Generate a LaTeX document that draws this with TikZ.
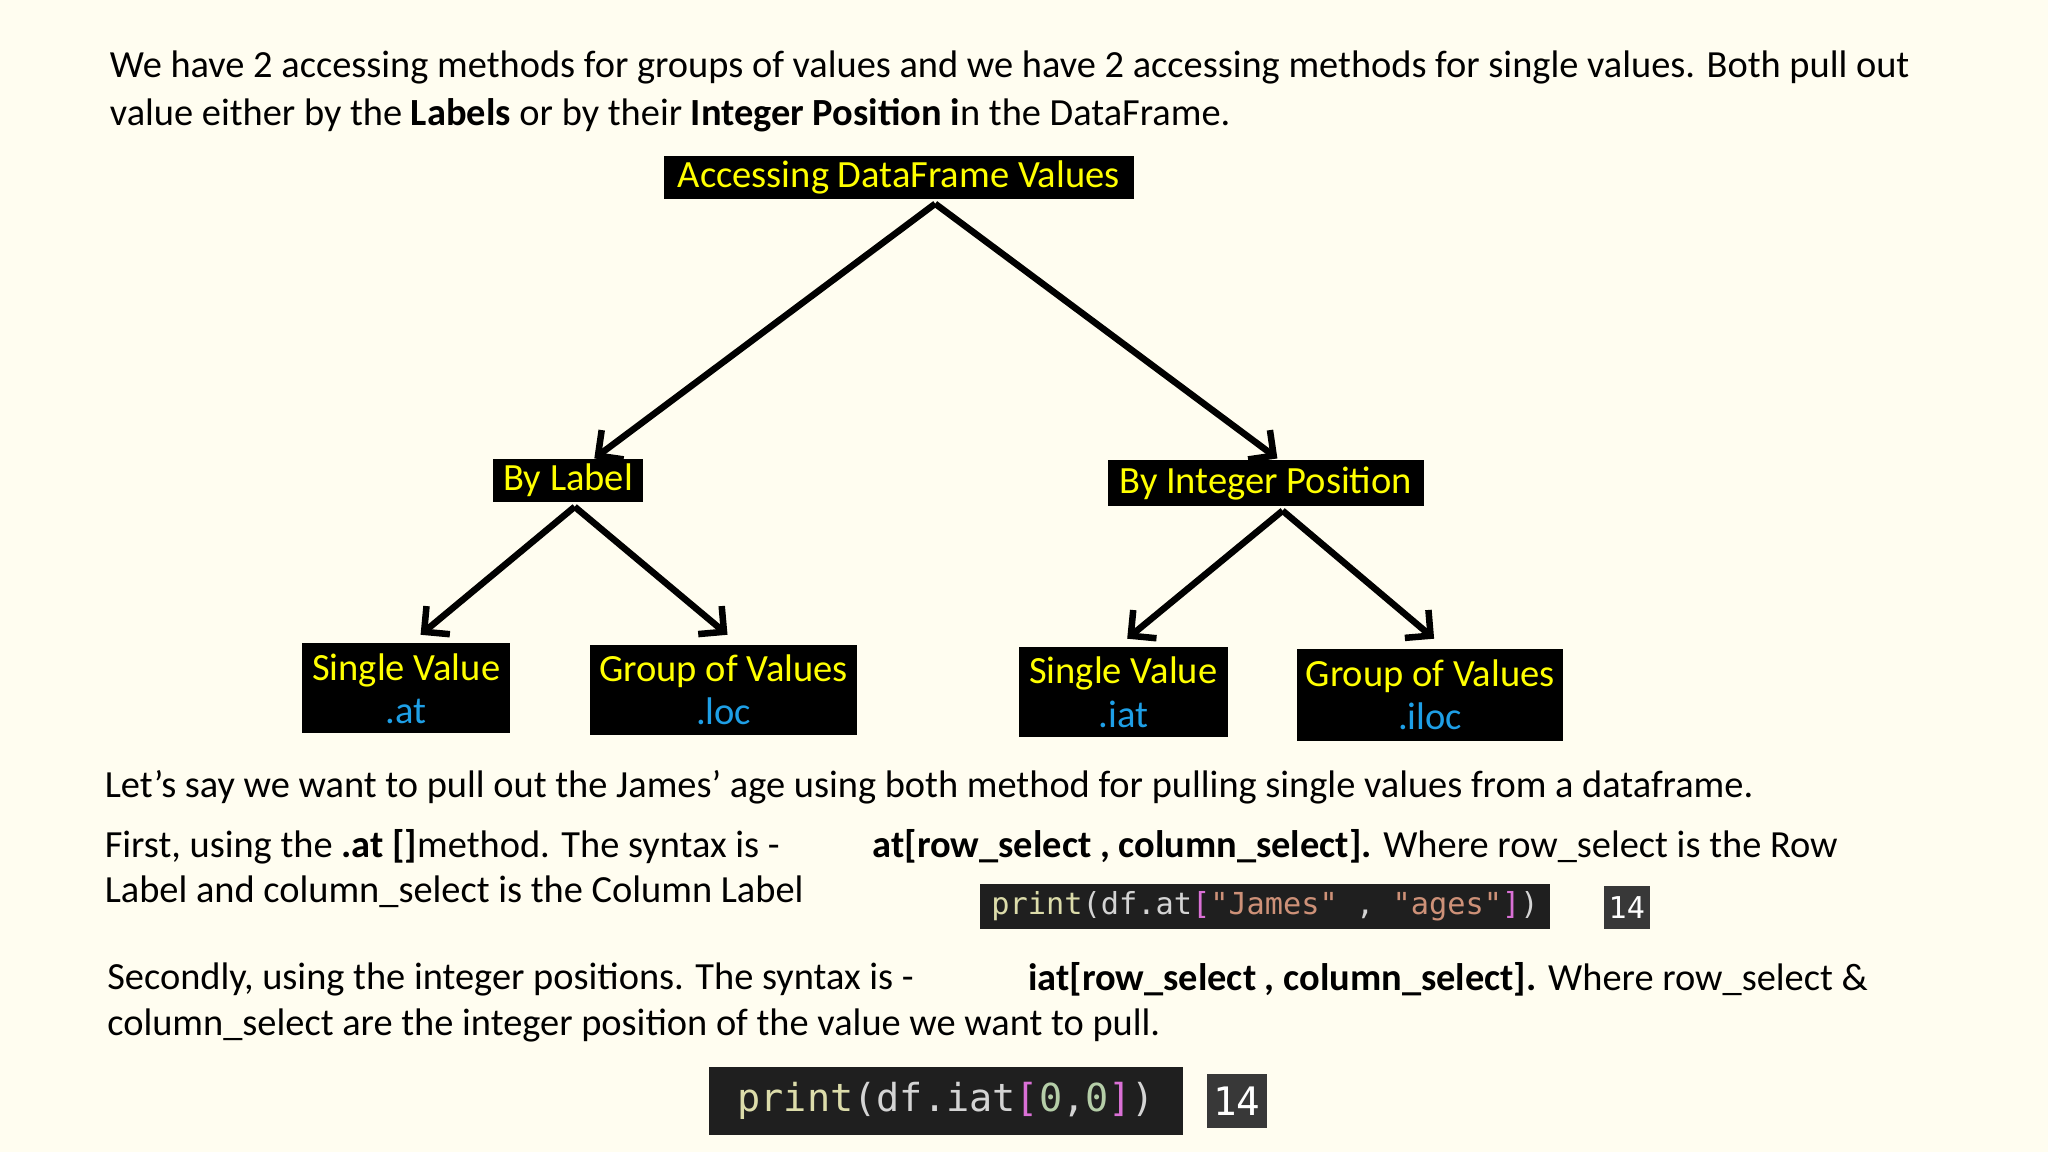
\documentclass[tikz,border=0pt]{standalone}
\usepackage{fontspec}
\setmainfont{Carlito}
\newfontfamily\codefont{DejaVu Sans Mono}
\usetikzlibrary{arrows.meta}
\definecolor{bg}{HTML}{FFFDF0}
\definecolor{ylw}{HTML}{FFFF00}
\definecolor{cyanb}{HTML}{1E9FE6}
\definecolor{cfn}{HTML}{DCDCAA}
\definecolor{cvar}{HTML}{9CDCFE}
\definecolor{cstr}{HTML}{CE9178}
\definecolor{cbr}{HTML}{DA70D6}
\definecolor{cnum}{HTML}{B5CEA8}
\definecolor{cpl}{HTML}{D4D4D4}
\begin{document}
\begin{tikzpicture}[x=1pt,y=-1pt,
  box/.style={fill=black,text=ylw,font=\fontsize{29.5}{30}\selectfont,inner sep=0pt,align=center},
  arr/.style={line width=5pt,-{Straight Barb[length=14pt,width=28pt,line width=5pt]}},
  txt/.style={anchor=west,font=\fontsize{29.4}{30}\selectfont,inner sep=0pt},
  code/.style={fill=black!88,inner sep=0pt,font=\codefont}]
\fill[bg] (0,0) rectangle (1568,882);
\useasboundingbox (0,0) rectangle (1568,882);
\node[txt] (t1) at (84,52) {We have 2 accessing methods for groups of values and we have 2 accessing methods for single values. Both pull out};
\node[txt] (t2) at (84,88) {value either by the \textbf{Labels} or by their \textbf{Integer Position i}n the DataFrame.};

\node[box,minimum width=360pt,minimum height=33pt] (root) at (688,136) {Accessing DataFrame Values};
\node[box,minimum width=115pt,minimum height=33pt] (lab) at (435,368) {By Label};
\node[box,minimum width=242pt,minimum height=35pt] (pos) at (969,370) {By Integer Position};
\node[box,minimum width=159pt,minimum height=69pt] (sv1) at (311,527) {Single Value\\[3pt]\textcolor{cyanb}{.at}};
\node[box,minimum width=204pt,minimum height=69pt] (gv1) at (554,528) {Group of Values\\[3pt]\textcolor{cyanb}{.loc}};
\node[box,minimum width=160pt,minimum height=69pt] (sv2) at (860,530) {Single Value\\[3pt]\textcolor{cyanb}{.iat}};
\node[box,minimum width=204pt,minimum height=70pt] (gv2) at (1095,532) {Group of Values\\[3pt]\textcolor{cyanb}{.iloc}};

\coordinate (rb) at (716,156);
\coordinate (lb) at (440,388);
\coordinate (pb) at (982,391);
\draw[arr] (rb) -- (455,351);
\draw[arr] (rb) -- (978,351);
\draw[arr] (lb) -- (322,486);
\draw[arr] (lb) -- (557,486);
\draw[arr] (pb) -- (863,489);
\draw[arr] (pb) -- (1098,489);

\node[txt] (t3) at (80,603) {Let’s say we want to pull out the James’ age using both method for pulling single values from a dataframe.};
\node[txt] (t4) at (80,648) {First, using the \textbf{.at []}method. The syntax is -};
\node[txt] (t5) at (668,648) {\textbf{at[row\_select , column\_select].} Where row\_select is the Row};
\node[txt] (t6) at (80,683) {Label and column\_select is the Column Label};

\node[code,minimum width=437pt,minimum height=34pt,font=\codefont\fontsize{23.2}{24}\selectfont] (c1) at (968.5,694) {\textcolor{cfn}{print}\textcolor{cpl}{(df.at}\textcolor{cbr}{[}\textcolor{cstr}{"James"} \textcolor{cpl}{,} \textcolor{cstr}{"ages"}\textcolor{cbr}{]}\textcolor{cpl}{)}};
\node[fill=black!78,text=white,minimum width=35pt,minimum height=33pt,inner sep=0pt,font=\codefont\fontsize{23}{24}\selectfont] (n1) at (1245.5,694.5) {14};

\node[txt] (t7) at (82,750) {Secondly, using the integer positions. The syntax is -};
\node[txt] (t8) at (787,750) {\textbf{iat[row\_select , column\_select].} Where row\_select \&};
\node[txt] (t9) at (82,785) {column\_select are the integer position of the value we want to pull.};

\node[code,minimum width=363pt,minimum height=52pt,font=\codefont\fontsize{29.5}{30}\selectfont] (c2) at (724.5,843) {\textcolor{cfn}{print}\textcolor{cpl}{(df.iat}\textcolor{cbr}{[}\textcolor{cnum}{0}\textcolor{cpl}{,}\textcolor{cnum}{0}\textcolor{cbr}{]}\textcolor{cpl}{)}};
\node[fill=black!78,text=white,minimum width=46pt,minimum height=42pt,inner sep=0pt,font=\codefont\fontsize{30}{30}\selectfont] (n2) at (947,843) {14};
\end{tikzpicture}
\end{document}
